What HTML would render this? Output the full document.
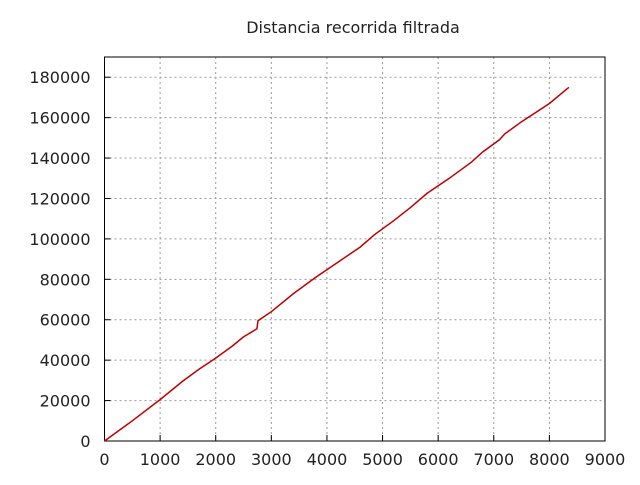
<!DOCTYPE html>
<html><head><meta charset="utf-8"><style>
body{margin:0;background:#fff}
svg text{font-family:"DejaVu Sans","Liberation Sans",sans-serif;font-size:16px;fill:#222}
</style></head><body>
<svg id="chart" width="640" height="480" xmlns="http://www.w3.org/2000/svg">
<text x="353" y="33" text-anchor="middle" style="font-size:16px">Distancia recorrida filtrada</text>
<g id="grid"></g>
<g id="axes"></g>
<path id="line" fill="none" stroke="#c00000" stroke-width="1.5"/>
</svg>
<script>
const xTicks=[0,1000,2000,3000,4000,5000,6000,7000,8000,9000];
const yTicks=[0,20000,40000,60000,80000,100000,120000,140000,160000,180000];
const xs=[0,500,1000,1400,1700,2000,2300,2500,2740,2760,3000,3400,3800,4200,4600,4850,5200,5500,5800,6200,6600,6800,7100,7200,7500,8000,8350];
const ys=[0,10000,20500,29500,35500,41000,47000,51500,55500,59500,64000,73000,81000,88500,96000,102000,109000,115500,122500,130000,138000,143000,149000,152000,158000,167000,175000];
const L=104.5,R=605,T=57,B=441,XMAX=9000,YMAX=190000;
const X=v=>L+v/XMAX*(R-L), Y=v=>B-v/YMAX*(B-T);
const NS='http://www.w3.org/2000/svg';
const grid=document.getElementById('grid'),axes=document.getElementById('axes');
function mk(tag,attrs,parent){const e=document.createElementNS(NS,tag);for(const k in attrs)e.setAttribute(k,attrs[k]);parent.appendChild(e);return e;}
xTicks.forEach(t=>{
 if(t>0&&t<XMAX){const g=mk('line',{x1:X(t),x2:X(t),y1:T,y2:B,stroke:'#999','stroke-dasharray':'2,3'},grid);
 
 }
 const tx=mk('text',{x:X(t),y:B+24,'text-anchor':'middle'},axes);tx.textContent=t;
 
 
 mk('line',{x1:X(t),x2:X(t),y1:B,y2:B-6,stroke:'#000'},axes);
});
yTicks.forEach(t=>{
 if(t>0){const g=mk('line',{x1:L,x2:R,y1:Y(t),y2:Y(t),stroke:'#999','stroke-dasharray':'2,3'},grid);
 
 }
 const tx=mk('text',{x:L-14,y:Y(t)+6,'text-anchor':'end'},axes);tx.textContent=t;
 
 
 mk('line',{x1:L,x2:L+6,y1:Y(t),y2:Y(t),stroke:'#000'},axes);
});
const fr=mk('rect',{x:L,y:T,width:R-L,height:B-T,fill:'none',stroke:'#000'},axes);


document.getElementById('line').setAttribute('d',xs.map((x,i)=>(i?'L':'M')+X(x).toFixed(1)+','+Y(ys[i]).toFixed(1)).join(''));
</script>
</body></html>
